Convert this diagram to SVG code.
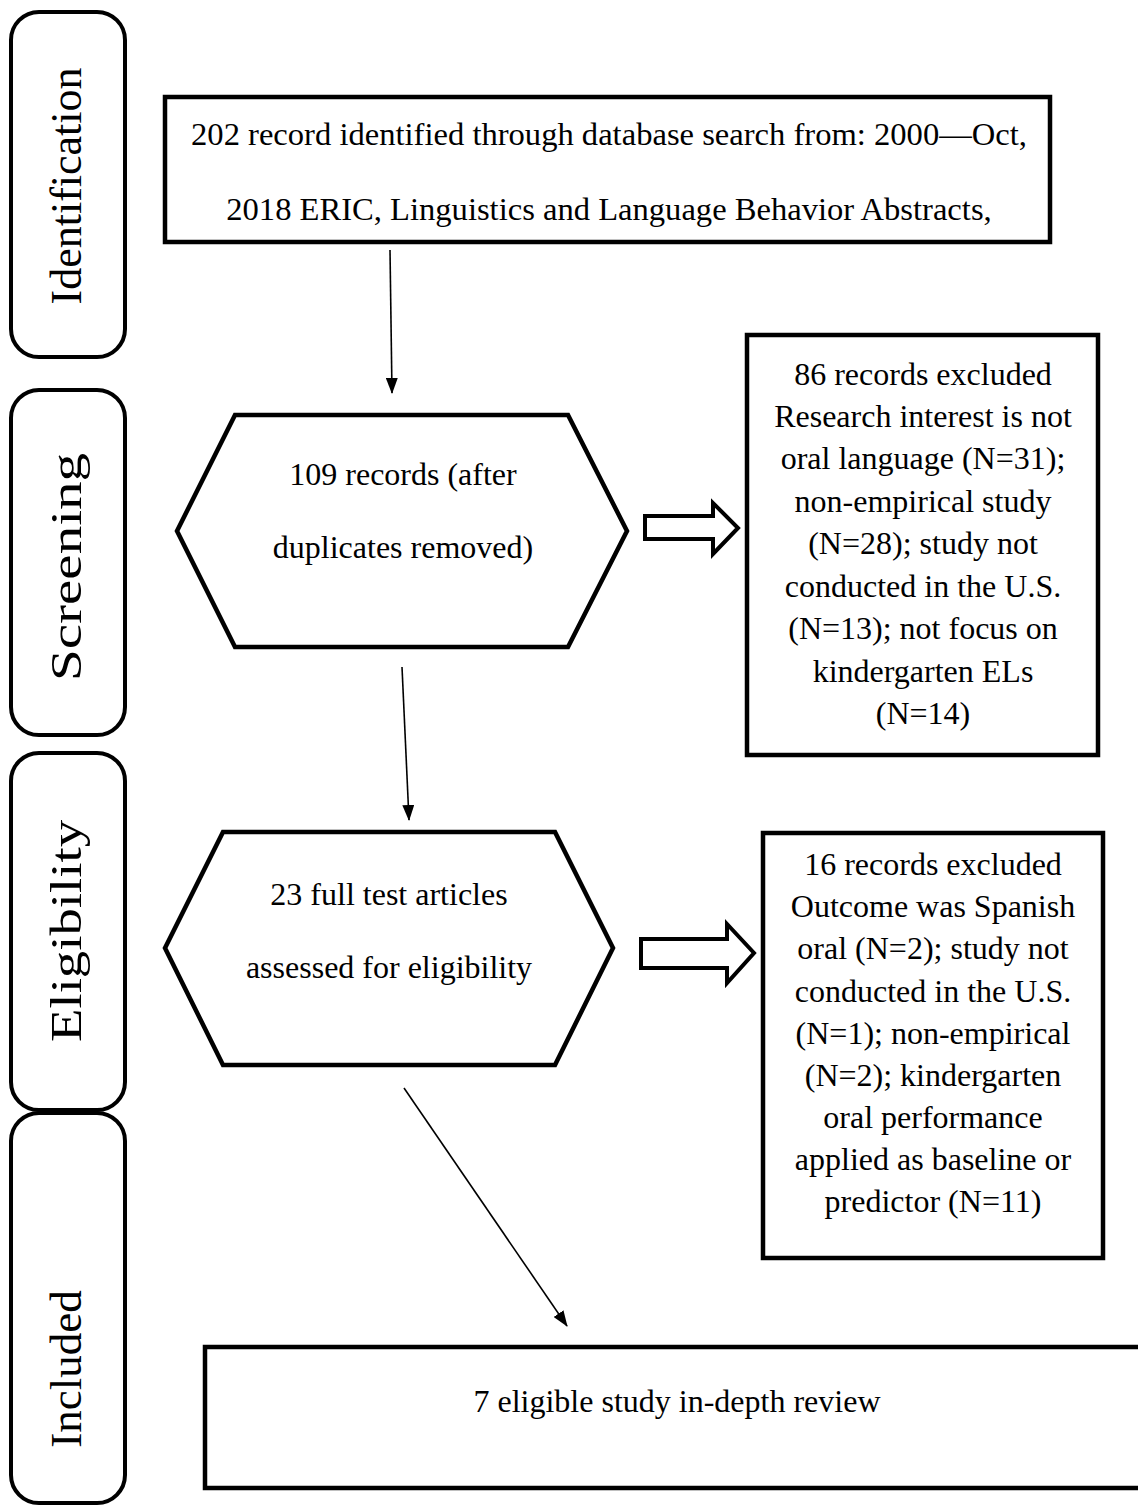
<svg xmlns="http://www.w3.org/2000/svg" width="1138" height="1507" viewBox="0 0 1138 1507">
<style>
.t{font-family:"Liberation Serif","Times New Roman",serif;font-size:32px;fill:#000;text-anchor:middle}
.lab{font-family:"Liberation Serif","Times New Roman",serif;font-size:44px;fill:#000;text-anchor:middle}
.box{fill:#fff;stroke:#000;stroke-width:4.5}
.phase{fill:#fff;stroke:#000;stroke-width:4}
.conn{stroke:#000;stroke-width:1.6;fill:none}
.big{fill:#fff;stroke:#000;stroke-width:4;stroke-linejoin:miter}
</style>
<defs>
<marker id="ah" markerWidth="16" markerHeight="12" refX="15" refY="6" orient="auto" markerUnits="userSpaceOnUse">
<path d="M0,0 L16,6 L0,12 Z" fill="#000"/>
</marker>
</defs>
<rect width="1138" height="1507" fill="#fff"/>

<g id="phase-identification">
<rect class="phase" x="11" y="12" width="114" height="345" rx="28"/>
<text class="lab" transform="translate(81,186) rotate(-90)">Identification</text>
</g>
<g id="phase-screening">
<rect class="phase" x="11" y="390" width="114" height="345" rx="28"/>
<text class="lab" transform="translate(81,567) rotate(-90)" textLength="228" lengthAdjust="spacingAndGlyphs">Screening</text>
</g>
<g id="phase-eligibility">
<rect class="phase" x="11" y="753" width="114" height="357" rx="28"/>
<text class="lab" transform="translate(81,931) rotate(-90)" textLength="222" lengthAdjust="spacingAndGlyphs">Eligibility</text>
</g>
<g id="phase-included">
<rect class="phase" x="11" y="1113" width="114" height="390" rx="28"/>
<text class="lab" transform="translate(81,1369) rotate(-90)" style="font-size:45px">Included</text>
</g>

<g id="identified">
<rect class="box" x="165" y="97" width="885" height="145"/>
<text class="t" x="609" y="145" style="font-size:32.6px">202 record identified through database search from: 2000—Oct,</text>
<text class="t" x="609" y="220" style="font-size:32.6px">2018 ERIC, Linguistics and Language Behavior Abstracts,</text>
</g>

<g id="screened">
<polygon class="box" points="235,415 568,415 627,531 568,647 235,647 177,531"/>
<text class="t" x="403" y="485">109 records (after</text>
<text class="t" x="403" y="558">duplicates removed)</text>
</g>

<g id="excluded1">
<rect class="box" x="747" y="335" width="351" height="420"/>
<text class="t" x="923" y="385">86 records excluded</text>
<text class="t" x="923" y="427">Research interest is not</text>
<text class="t" x="923" y="469">oral language (N=31);</text>
<text class="t" x="923" y="512">non-empirical study</text>
<text class="t" x="923" y="554">(N=28); study not</text>
<text class="t" x="923" y="597">conducted in the U.S.</text>
<text class="t" x="923" y="639">(N=13); not focus on</text>
<text class="t" x="923" y="682">kindergarten ELs</text>
<text class="t" x="923" y="724">(N=14)</text>
</g>

<g id="eligible">
<polygon class="box" points="223,832 555,832 613,948 555,1065 223,1065 165,948"/>
<text class="t" x="389" y="905">23 full test articles</text>
<text class="t" x="389" y="978">assessed for eligibility</text>
</g>

<g id="excluded2">
<rect class="box" x="763" y="833" width="340" height="425"/>
<text class="t" x="933" y="875">16 records excluded</text>
<text class="t" x="933" y="917">Outcome was Spanish</text>
<text class="t" x="933" y="959">oral (N=2); study not</text>
<text class="t" x="933" y="1002">conducted in the U.S.</text>
<text class="t" x="933" y="1044">(N=1); non-empirical</text>
<text class="t" x="933" y="1086">(N=2); kindergarten</text>
<text class="t" x="933" y="1128">oral performance</text>
<text class="t" x="933" y="1170">applied as baseline or</text>
<text class="t" x="933" y="1212">predictor (N=11)</text>
</g>

<g id="included">
<rect class="box" x="205" y="1347" width="960" height="141"/>
<text class="t" x="677" y="1412">7 eligible study in-depth review</text>
</g>

<g id="connectors">
<line class="conn" x1="390" y1="250" x2="392" y2="393" marker-end="url(#ah)"/>
<line class="conn" x1="402" y1="667" x2="409" y2="820" marker-end="url(#ah)"/>
<line class="conn" x1="404" y1="1088" x2="567" y2="1326" marker-end="url(#ah)"/>
<polygon class="big" points="645,516 713,516 713,503 738,528 713,554 713,539 645,539"/>
<polygon class="big" points="641,939 727,939 727,924 754,953 727,983 727,968 641,968"/>
</g>
</svg>
